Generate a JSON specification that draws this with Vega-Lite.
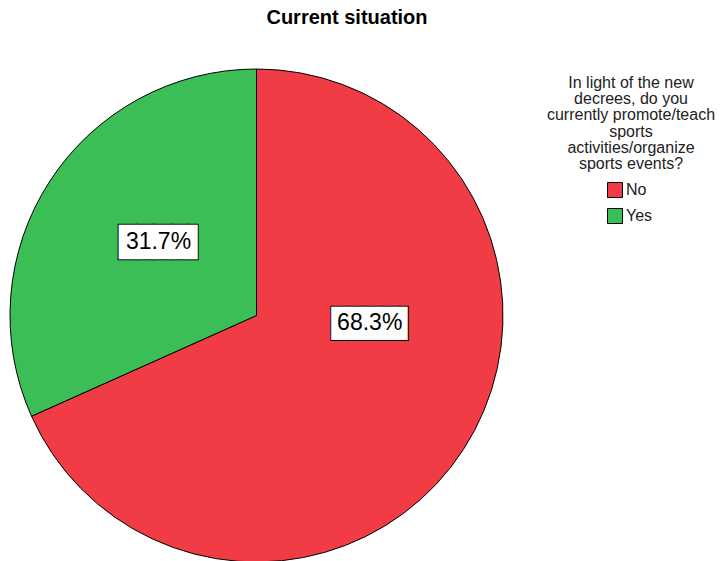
{
  "$schema": "https://vega.github.io/schema/vega-lite/v6.json",
  "width": 723,
  "height": 521,
  "autosize": "none",
  "padding": {"left": 0, "top": 40, "right": 0, "bottom": 0},
  "background": "white",
  "config": {"font": "Liberation Sans", "view": {"stroke": null}},
  "title": {
    "text": "Current situation",
    "fontSize": 20,
    "fontWeight": "bold",
    "color": "#000000",
    "anchor": "middle",
    "frame": "group",
    "dx": -14.5,
    "offset": 12
  },
  "data": {
    "values": [
      {"answer": "No", "pct": 68.3, "label": "68.3%", "box": "████▌"},
      {"answer": "Yes", "pct": 31.7, "label": "31.7%", "box": "████▌"}
    ]
  },
  "layer": [
    {
      "mark": {"type": "arc", "x": 256.5, "y": 275.5, "outerRadius": 246.5, "stroke": "#000000", "strokeWidth": 1},
      "encoding": {
        "theta": {"field": "pct", "type": "quantitative", "stack": true},
        "color": {
          "field": "answer",
          "type": "nominal",
          "scale": {"domain": ["No", "Yes"], "range": ["#F13B45", "#3CBE56"]},
          "legend": {
            "orient": "none",
            "legendX": 547,
            "legendY": 35,
            "padding": 0,
            "title": ["In light of the new", "decrees, do you", "currently promote/teach", "sports", "activities/organize", "sports events?"],
            "titleFontSize": 16,
            "titleFontWeight": "normal",
            "titleColor": "#222222",
            "titleLineHeight": 16.2,
            "titleAlign": "center",
            "titleAnchor": "middle",
            "titlePadding": 10,
            "labelFontSize": 16,
            "labelColor": "#222222",
            "labelOffset": 3,
            "symbolType": "square",
            "symbolSize": 225,
            "symbolStrokeColor": "#000000",
            "symbolStrokeWidth": 1,
            "symbolOpacity": 1,
            "symbolOffset": -3,
            "rowPadding": 6
          }
        }
      }
    },
    {
      "mark": {"type": "text", "x": 256.5, "y": 275.5, "dx": 4, "dy": 1.5, "thetaOffset": -0.506, "font": "DejaVu Sans Mono", "fontSize": 28, "fill": "#000000", "stroke": "#000000", "strokeWidth": 2, "align": "center", "baseline": "middle"},
      "encoding": {
        "theta": {"field": "pct", "type": "quantitative", "stack": true},
        "order": {"field": "answer", "sort": "ascending"},
        "radius": {"value": 113.5},
        "text": {"field": "box"},
        "opacity": {"condition": {"test": "datum.answer === 'No'", "value": 1}, "value": 0}
      }
    },
    {
      "mark": {"type": "text", "x": 256.5, "y": 275.5, "dx": 4, "dy": 1.5, "thetaOffset": -0.506, "font": "DejaVu Sans Mono", "fontSize": 28, "fill": "#FFFFFF", "align": "center", "baseline": "middle"},
      "encoding": {
        "theta": {"field": "pct", "type": "quantitative", "stack": true},
        "order": {"field": "answer", "sort": "ascending"},
        "radius": {"value": 113.5},
        "text": {"field": "box"},
        "opacity": {"condition": {"test": "datum.answer === 'No'", "value": 1}, "value": 0}
      }
    },
    {
      "mark": {"type": "text", "x": 256.5, "y": 275.5, "dx": 4, "dy": 1.5, "thetaOffset": 0.0709, "font": "DejaVu Sans Mono", "fontSize": 29, "fill": "#000000", "stroke": "#000000", "strokeWidth": 2, "align": "center", "baseline": "middle"},
      "encoding": {
        "theta": {"field": "pct", "type": "quantitative", "stack": true},
        "order": {"field": "answer", "sort": "ascending"},
        "radius": {"value": 122.7},
        "text": {"field": "box"},
        "opacity": {"condition": {"test": "datum.answer === 'Yes'", "value": 1}, "value": 0}
      }
    },
    {
      "mark": {"type": "text", "x": 256.5, "y": 275.5, "dx": 4, "dy": 1.5, "thetaOffset": 0.0709, "font": "DejaVu Sans Mono", "fontSize": 29, "fill": "#FFFFFF", "align": "center", "baseline": "middle"},
      "encoding": {
        "theta": {"field": "pct", "type": "quantitative", "stack": true},
        "order": {"field": "answer", "sort": "ascending"},
        "radius": {"value": 122.7},
        "text": {"field": "box"},
        "opacity": {"condition": {"test": "datum.answer === 'Yes'", "value": 1}, "value": 0}
      }
    },
    {
      "mark": {"type": "text", "x": 256.5, "y": 275.5, "thetaOffset": -0.506, "fontSize": 23, "color": "#000000", "align": "center", "baseline": "middle"},
      "encoding": {
        "theta": {"field": "pct", "type": "quantitative", "stack": true},
        "order": {"field": "answer", "sort": "ascending"},
        "radius": {"value": 113.5},
        "text": {"field": "label"},
        "opacity": {"condition": {"test": "datum.answer === 'No'", "value": 1}, "value": 0}
      }
    },
    {
      "mark": {"type": "text", "x": 256.5, "y": 275.5, "thetaOffset": 0.0709, "fontSize": 23, "color": "#000000", "align": "center", "baseline": "middle"},
      "encoding": {
        "theta": {"field": "pct", "type": "quantitative", "stack": true},
        "order": {"field": "answer", "sort": "ascending"},
        "radius": {"value": 122.7},
        "text": {"field": "label"},
        "opacity": {"condition": {"test": "datum.answer === 'Yes'", "value": 1}, "value": 0}
      }
    }
  ]
}
